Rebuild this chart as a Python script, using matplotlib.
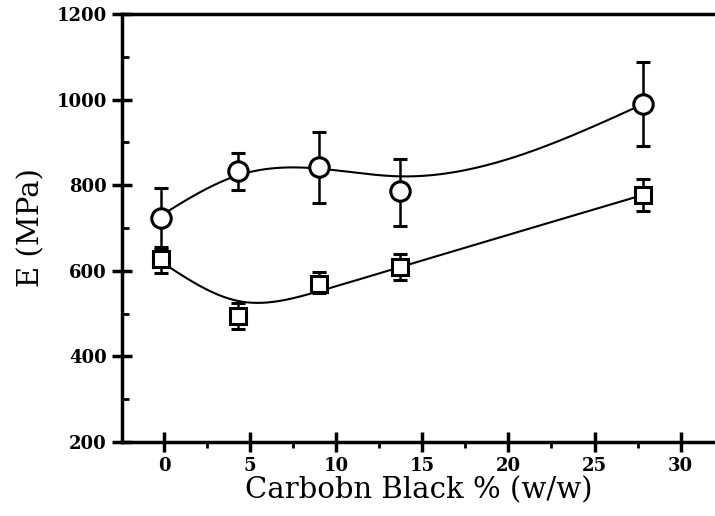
import numpy as np
import matplotlib
matplotlib.use("Agg")
import matplotlib.pyplot as plt
from matplotlib.ticker import MultipleLocator

# carbon black content (% w/w) and modulus E (MPa)
cb_circ = [-0.2, 4.3, 9.0, 13.7, 27.8]
E_circ = [723, 833, 843, 787, 990]
err_circ_lo = [650, 789, 758, 705, 892]
err_circ_hi = [794, 875, 924, 861, 1088]

cb_sq = [-0.2, 4.3, 9.0, 13.7, 27.8]
E_sq = [628, 494, 569, 609, 777]
err_sq_lo = [595, 464, 548, 579, 740]
err_sq_hi = [655, 525, 597, 639, 815]

# smoothing settings for the trend curves
w_circ = [6, 6, 1, 1, 6]
lam_circ = 30
w_sq = [3, 1, 1, 1, 3]
lam_sq = 10


def smooth_spline(x, y, w, lam, xs):
    # Reinsch smoothing spline (natural cubic)
    x = np.asarray(x, float)
    y = np.asarray(y, float)
    n = len(x)
    h = np.diff(x)
    Q = np.zeros((n, n - 2))
    R = np.zeros((n - 2, n - 2))
    for j in range(1, n - 1):
        Q[j - 1, j - 1] = 1 / h[j - 1]
        Q[j, j - 1] = -1 / h[j - 1] - 1 / h[j]
        Q[j + 1, j - 1] = 1 / h[j]
        R[j - 1, j - 1] = (h[j - 1] + h[j]) / 3
        if j < n - 2:
            R[j - 1, j] = h[j] / 6
            R[j, j - 1] = h[j] / 6
    W = np.diag(np.asarray(w, float))
    K = Q @ np.linalg.solve(R, Q.T)
    g = np.linalg.solve(W + lam * K, W @ y)
    gam = np.zeros(n)
    gam[1:-1] = np.linalg.solve(R, Q.T @ g)
    out = np.empty_like(xs)
    for k, t in enumerate(xs):
        i = min(max(np.searchsorted(x, t) - 1, 0), n - 2)
        a = (x[i + 1] - t) / h[i]
        b = (t - x[i]) / h[i]
        out[k] = (a * g[i] + b * g[i + 1]
                  + ((a ** 3 - a) * gam[i] + (b ** 3 - b) * gam[i + 1]) * h[i] ** 2 / 6)
    return out


fig = plt.figure(figsize=(7.15, 5.16), dpi=100)
ax = fig.add_axes([0.1706, 0.1434, 0.8294, 0.8295])

serif = ["DejaVu Serif"]


def draw(x, y, lo, hi, w, lam, marker, ms):
    xs = np.linspace(x[0], x[-1], 300)
    ax.plot(xs, smooth_spline(x, y, w, lam, xs), color="black", lw=1.5, zorder=2)
    y = np.array(y)
    yerr = [y - np.array(lo), np.array(hi) - y]
    ax.errorbar(x, y, yerr=yerr, fmt=marker, ms=ms, mfc="white", mec="black",
                mew=2.2, ecolor="black", elinewidth=1.8, capsize=5, capthick=1.8,
                zorder=3)


draw(cb_circ, E_circ, err_circ_lo, err_circ_hi, w_circ, lam_circ, "o", 14)
draw(cb_sq, E_sq, err_sq_lo, err_sq_hi, w_sq, lam_sq, "s", 12)

ax.set_xlim(-2.45, 32.0)
ax.set_ylim(200, 1200)
ax.xaxis.set_major_locator(MultipleLocator(5))
ax.xaxis.set_minor_locator(MultipleLocator(2.5))
ax.yaxis.set_major_locator(MultipleLocator(200))
ax.yaxis.set_minor_locator(MultipleLocator(100))

for s in ["left", "bottom", "top"]:
    ax.spines[s].set_linewidth(2.5)
ax.spines["right"].set_visible(False)

ax.tick_params(which="major", direction="inout", length=14, width=2.5, pad=4)
ax.tick_params(axis="x", which="minor", direction="out", length=4, width=2)
ax.tick_params(axis="y", which="minor", direction="in", length=5, width=2)

for lab in ax.get_xticklabels() + ax.get_yticklabels():
    lab.set_family(serif)
    lab.set_fontweight("bold")
    lab.set_fontsize(13)

ax.set_xlabel("Carbobn Black % (w/w)", family=serif, fontsize=21, labelpad=1)
ax.set_ylabel("E (MPa)", family=serif, fontsize=21, labelpad=8)

fig.savefig("out.png", dpi=100)
